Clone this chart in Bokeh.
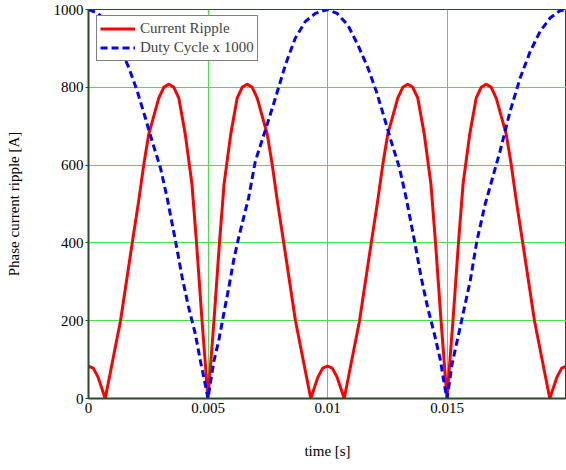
from bokeh.plotting import figure
from bokeh.models import Range1d, FixedTicker, Legend, LegendItem
from bokeh.embed import file_html
from bokeh.resources import INLINE

# ---- data ----
ripple_t = [0, 0.0002, 0.0004, 0.0007, 0.00134, 0.00183, 0.0021, 0.00231, 0.00252, 0.00294,
            0.00315, 0.00336, 0.00357, 0.00378, 0.00405, 0.00433, 0.00452, 0.00475, 0.005,
            0.00525, 0.00548, 0.00567, 0.00595, 0.00622, 0.00643, 0.00664, 0.00685, 0.00706,
            0.00748, 0.00769, 0.0079, 0.00817, 0.00866, 0.0093, 0.0096, 0.0098, 0.01,
            0.0102, 0.0104, 0.0107, 0.01134, 0.01183, 0.0121, 0.01231, 0.01252, 0.01294,
            0.01315, 0.01336, 0.01357, 0.01378, 0.01405, 0.01433, 0.01452, 0.01475, 0.015,
            0.01525, 0.01548, 0.01567, 0.01595, 0.01622, 0.01643, 0.01664, 0.01685, 0.01706,
            0.01748, 0.01769, 0.0179, 0.01817, 0.01866, 0.0193, 0.0196, 0.0198, 0.02]
ripple_a = [83, 78, 55, 0, 200, 400, 508, 600, 679, 772,
            800, 808, 800, 772, 679, 550, 400, 200, 0,
            200, 400, 550, 679, 772, 800, 808, 800, 772,
            679, 600, 508, 400, 200, 0, 55, 78, 83,
            78, 55, 0, 200, 400, 508, 600, 679, 772,
            800, 808, 800, 772, 679, 550, 400, 200, 0,
            200, 400, 550, 679, 772, 800, 808, 800, 772,
            679, 600, 508, 400, 200, 0, 55, 78, 83]

duty_t = [0, 0.0004, 0.00085, 0.00127, 0.00169, 0.00204, 0.00238, 0.00266, 0.00301, 0.00329,
          0.00364, 0.00392, 0.00419, 0.00447, 0.00468, 0.00489, 0.005,
          0.0051, 0.00525, 0.00545, 0.00566, 0.00587, 0.00607, 0.00628, 0.00656, 0.0067,
          0.00698, 0.0074, 0.00782, 0.00824, 0.00865, 0.00907, 0.00949, 0.01,
          0.0104, 0.01085, 0.01127, 0.01169, 0.01204, 0.01238, 0.01266, 0.01301, 0.01329,
          0.01364, 0.01392, 0.01419, 0.01447, 0.01472, 0.01489, 0.015,
          0.0151, 0.0152, 0.01555, 0.01597, 0.01625, 0.0166, 0.01722, 0.01764, 0.01806,
          0.01848, 0.0189, 0.01931, 0.01973, 0.02]
duty_x1000 = [1000, 990, 960, 909, 850, 790, 721, 662, 593, 516,
              405, 311, 234, 166, 97, 35, 0,
              40, 97, 149, 218, 285, 354, 413, 482, 516,
              610, 690, 772, 858, 926, 969, 990, 1000,
              990, 960, 909, 850, 790, 721, 662, 593, 516,
              405, 311, 234, 166, 100, 35, 0,
              40, 85, 183, 302, 405, 500, 636, 738, 824,
              892, 944, 978, 997, 1000]

x_ticks = [0, 0.005, 0.01, 0.015]
x_tick_labels = ["0", "0.005", "0.01", "0.015"]
y_ticks = [0, 200, 400, 600, 800, 1000]

FONT = "Liberation Serif"
GRID = "#3ee83e"
AXIS = "#2a4a2a"

p = figure(width=566, height=470, x_range=Range1d(0, 0.02), y_range=Range1d(0, 1000),
           output_backend="svg", toolbar_location=None,
           min_border_left=88, min_border_right=0, min_border_top=9, min_border_bottom=72)

p.background_fill_color = "white"
p.border_fill_color = "white"
p.outline_line_color = AXIS
p.outline_line_width = 1

r1 = p.line(ripple_t, ripple_a, line_color="#ff0000", line_width=3, line_join="round")
r2 = p.line(duty_t, duty_x1000, line_color="#0000ff", line_width=3, line_dash="7 4")

p.xaxis.ticker = FixedTicker(ticks=x_ticks)
p.xaxis.major_label_overrides = dict(zip(x_ticks, x_tick_labels))
p.yaxis.ticker = FixedTicker(ticks=y_ticks)
p.xaxis.minor_tick_line_color = None
p.yaxis.minor_tick_line_color = None
p.xaxis.major_tick_out = 0
p.xaxis.major_tick_in = 0
p.xaxis.major_label_standoff = 4
p.yaxis.major_tick_out = 3
p.yaxis.major_tick_in = 0
p.yaxis.major_label_standoff = 2
for ax in (p.xaxis, p.yaxis):
    ax.axis_line_color = AXIS
    ax.axis_line_width = 2
    ax.major_tick_line_color = AXIS
    ax.major_label_text_font = FONT
    ax.major_label_text_font_size = "15px"
    ax.major_label_text_color = "black"
    ax.axis_label_text_font = FONT
    ax.axis_label_text_font_size = "15px"
    ax.axis_label_text_font_style = "normal"
    ax.axis_label_text_color = "black"

p.xaxis.axis_label = "time [s]"
p.xaxis.axis_label_standoff = 27
p.yaxis.axis_label = "Phase current ripple [A]"
p.yaxis.axis_label_standoff = 29

p.xgrid.ticker = FixedTicker(ticks=x_ticks)
p.ygrid.ticker = FixedTicker(ticks=y_ticks)
p.xgrid.grid_line_color = GRID
p.ygrid.grid_line_color = GRID
p.xgrid.grid_line_width = 1
p.ygrid.grid_line_width = 1

legend = Legend(items=[LegendItem(label="Current Ripple", renderers=[r1]),
                       LegendItem(label="Duty Cycle x 1000", renderers=[r2])],
                location=(8, 337))
legend.margin = 0
legend.padding = 3
legend.spacing = 0
legend.glyph_width = 35
legend.glyph_height = 19
legend.label_height = 19
legend.label_standoff = 5
legend.label_text_font = FONT
legend.label_text_font_size = "15px"
legend.border_line_color = "black"
legend.border_line_width = 1
legend.background_fill_color = "white"
legend.background_fill_alpha = 1.0
p.add_layout(legend)

open("out.html", "w").write(file_html(p, INLINE))
